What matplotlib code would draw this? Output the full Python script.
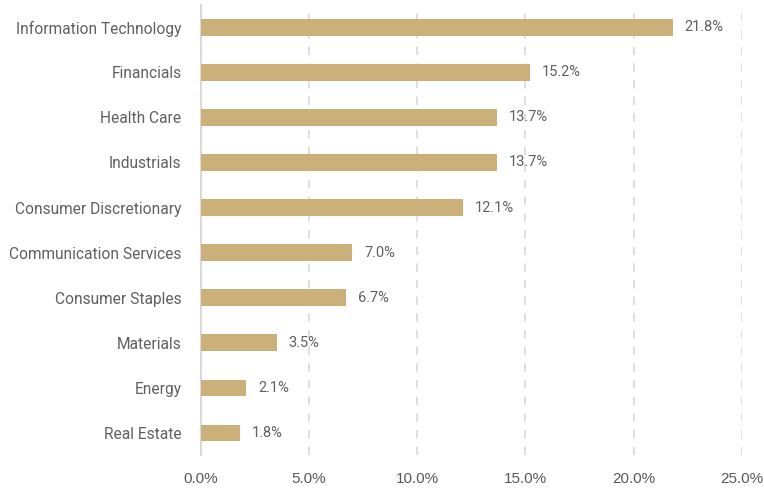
import matplotlib
matplotlib.use("Agg")
import matplotlib.pyplot as plt
from matplotlib.ticker import FuncFormatter

# 資料
sectors = ["Information Technology", "Financials", "Health Care", "Industrials",
           "Consumer Discretionary", "Communication Services", "Consumer Staples",
           "Materials", "Energy", "Real Estate"]
weights = [21.8, 15.2, 13.7, 13.7, 12.1, 7.0, 6.7, 3.5, 2.1, 1.8]
x_ticks = [0, 5, 10, 15, 20, 25]

narrow = ["Roboto", "DejaVu Sans"]
text_color = "#606060"
bar_color = "#CBB07A"

fig = plt.figure(figsize=(7.64, 4.91), dpi=100)
ax = fig.add_axes([0.263, 0.073, 0.708, 0.917])

ypos = list(range(len(sectors)))
ax.barh(ypos, weights, height=0.36, color=bar_color, zorder=3)
ax.set_ylim(len(sectors) - 0.5, -0.5)
ax.set_xlim(0, 25)

for y, v in zip(ypos, weights):
    ax.text(v + 0.55, y, f"{v:.1f}%", va="center", ha="left", fontsize=10.5,
            color=text_color, family=narrow)

ax.set_yticks(ypos)
ax.set_yticklabels(sectors, family=narrow, fontsize=11.2, color=text_color)
ax.set_xticks(x_ticks)
ax.xaxis.set_major_formatter(FuncFormatter(lambda v, p: f"{v:.1f}%"))
for lab in ax.get_xticklabels():
    lab.set_family(["Liberation Sans", "DejaVu Sans"])
    lab.set_fontsize(11)
    lab.set_color("#595959")

ax.tick_params(axis="both", length=0)
ax.tick_params(axis="x", pad=12)
ax.tick_params(axis="y", pad=14)

ax.grid(axis="x", linestyle=(0, (5, 5)), color="#D9D9D9", linewidth=1.2, zorder=0)
for s in ["top", "right", "bottom"]:
    ax.spines[s].set_visible(False)
ax.spines["left"].set_color("#D9D9D9")
ax.spines["left"].set_linewidth(1.5)

fig.savefig("out.png", dpi=100)
